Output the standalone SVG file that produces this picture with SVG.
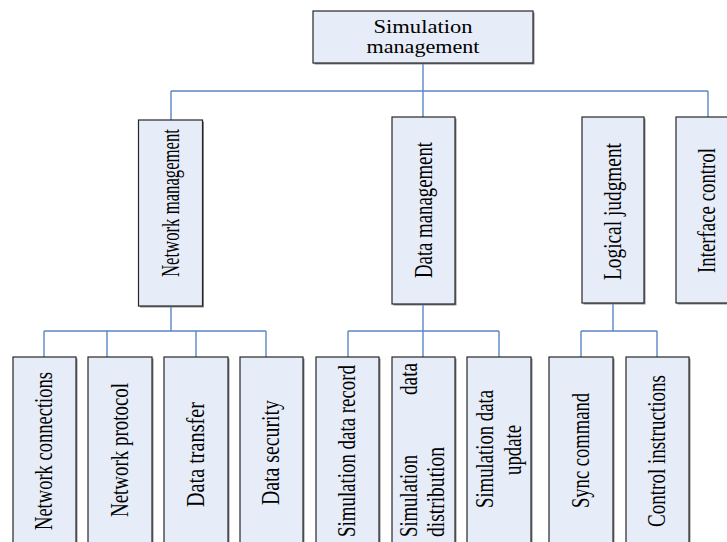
<svg xmlns="http://www.w3.org/2000/svg" width="727" height="542" viewBox="0 0 727 542">
  <style>
    .box { fill: #e7edf8; stroke: #262626; stroke-width: 1.2; }
    .shadow { fill: #8a8a8a; }
    .link { stroke: #5a86c6; stroke-width: 1.4; fill: none; }
    text { font-family: "Liberation Serif", "Times New Roman", serif; fill: #000; }
    .h { font-size: 19.5px; }
    .v { font-size: 25px; }
  </style>

  <rect width="727" height="542" fill="#ffffff"/>

  <!-- connectors -->
  <g id="connectors" class="link">
    <path d="M423,63 V117"/>
    <path d="M171,91 H708 M171,91 V120 M708,91 V117"/>
    <path d="M171,306 V331 M44,331 H266 M44,331 V357 M107,331 V357 M196,331 V357 M266,331 V357"/>
    <path d="M423,304 V357 M348,331 H499 M348,331 V357 M499,331 V357"/>
    <path d="M613,303 V331 M581,331 H657 M581,331 V357 M657,331 V357"/>
  </g>

  <!-- root -->
  <g id="simulation-management">
    <rect class="shadow" x="314.5" y="12.5" width="220" height="52"/>
    <rect class="box" x="313" y="11" width="220" height="52"/>
    <text class="h" x="423" y="33" text-anchor="middle" textLength="99" lengthAdjust="spacingAndGlyphs">Simulation</text>
    <text class="h" x="423" y="53" text-anchor="middle" textLength="113" lengthAdjust="spacingAndGlyphs">management</text>
  </g>

  <!-- second level -->
  <g id="network-management">
    <rect class="shadow" x="140" y="121.5" width="64" height="186"/>
    <rect class="box" x="138.5" y="120" width="64" height="186"/>
    <text class="v" transform="translate(179,277) rotate(-90)" textLength="148" lengthAdjust="spacingAndGlyphs">Network management</text>
  </g>
  <g id="data-management">
    <rect class="shadow" x="393.5" y="118.5" width="63" height="187"/>
    <rect class="box" x="392" y="117" width="63" height="187"/>
    <text class="v" transform="translate(432,278) rotate(-90)" textLength="136" lengthAdjust="spacingAndGlyphs">Data management</text>
  </g>
  <g id="logical-judgment">
    <rect class="shadow" x="583.5" y="118.5" width="62" height="186"/>
    <rect class="box" x="582" y="117" width="62" height="186"/>
    <text class="v" transform="translate(621,280) rotate(-90)" textLength="137" lengthAdjust="spacingAndGlyphs">Logical judgment</text>
  </g>
  <g id="interface-control">
    <rect class="shadow" x="677.5" y="118.5" width="64" height="186"/>
    <rect class="box" x="676" y="117" width="64" height="186"/>
    <text class="v" transform="translate(715,273) rotate(-90)" textLength="125" lengthAdjust="spacingAndGlyphs">Interface control</text>
  </g>

  <!-- third level: network -->
  <g id="network-connections">
    <rect class="shadow" x="14.5" y="358.5" width="63" height="200"/>
    <rect class="box" x="13" y="357" width="63" height="200"/>
    <text class="v" transform="translate(52,530) rotate(-90)" textLength="158" lengthAdjust="spacingAndGlyphs">Network connections</text>
  </g>
  <g id="network-protocol">
    <rect class="shadow" x="89.5" y="358.5" width="64" height="200"/>
    <rect class="box" x="88" y="357" width="64" height="200"/>
    <text class="v" transform="translate(128,517) rotate(-90)" textLength="134" lengthAdjust="spacingAndGlyphs">Network protocol</text>
  </g>
  <g id="data-transfer">
    <rect class="shadow" x="165.5" y="358.5" width="64" height="200"/>
    <rect class="box" x="164" y="357" width="64" height="200"/>
    <text class="v" transform="translate(204,507) rotate(-90)" textLength="105" lengthAdjust="spacingAndGlyphs">Data transfer</text>
  </g>
  <g id="data-security">
    <rect class="shadow" x="241.5" y="358.5" width="63" height="200"/>
    <rect class="box" x="240" y="357" width="63" height="200"/>
    <text class="v" transform="translate(279,505) rotate(-90)" textLength="105" lengthAdjust="spacingAndGlyphs">Data security</text>
  </g>

  <!-- third level: data -->
  <g id="simulation-data-record">
    <rect class="shadow" x="317.5" y="358.5" width="63" height="200"/>
    <rect class="box" x="316" y="357" width="63" height="200"/>
    <text class="v" transform="translate(355,537) rotate(-90)" textLength="172" lengthAdjust="spacingAndGlyphs">Simulation data record</text>
  </g>
  <g id="simulation-data-distribution">
    <rect class="shadow" x="393.5" y="358.5" width="63" height="200"/>
    <rect class="box" x="392" y="357" width="63" height="200"/>
    <text class="v" transform="translate(417,537) rotate(-90)" textLength="82" lengthAdjust="spacingAndGlyphs">Simulation</text>
    <text class="v" transform="translate(417,395) rotate(-90)" textLength="32" lengthAdjust="spacingAndGlyphs">data</text>
    <text class="v" transform="translate(444,537) rotate(-90)" textLength="90" lengthAdjust="spacingAndGlyphs">distribution</text>
  </g>
  <g id="simulation-data-update">
    <rect class="shadow" x="468.5" y="358.5" width="64" height="200"/>
    <rect class="box" x="467" y="357" width="64" height="200"/>
    <text class="v" transform="translate(493,508) rotate(-90)" textLength="118" lengthAdjust="spacingAndGlyphs">Simulation data</text>
    <text class="v" transform="translate(521,475) rotate(-90)" textLength="50" lengthAdjust="spacingAndGlyphs">update</text>
  </g>

  <!-- third level: logic -->
  <g id="sync-command">
    <rect class="shadow" x="550.5" y="358.5" width="64" height="200"/>
    <rect class="box" x="549" y="357" width="64" height="200"/>
    <text class="v" transform="translate(589,508) rotate(-90)" textLength="115" lengthAdjust="spacingAndGlyphs">Sync command</text>
  </g>
  <g id="control-instructions">
    <rect class="shadow" x="627.5" y="358.5" width="63" height="200"/>
    <rect class="box" x="626" y="357" width="63" height="200"/>
    <text class="v" transform="translate(665,527) rotate(-90)" textLength="152" lengthAdjust="spacingAndGlyphs">Control instructions</text>
  </g>
</svg>
